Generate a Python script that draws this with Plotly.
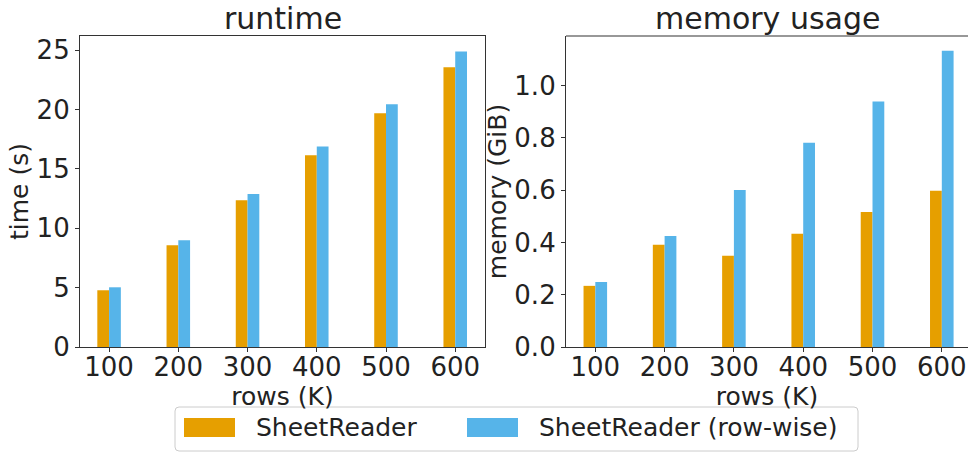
import plotly.graph_objects as go

rows = [100, 200, 300, 400, 500, 600]
tick_labels = ["100", "200", "300", "400", "500", "600"]
runtime_sr = [4.78, 8.58, 12.37, 16.16, 19.7, 23.57]
runtime_rw = [5.03, 9.0, 12.88, 16.9, 20.45, 24.9]
memory_sr = [0.234, 0.391, 0.349, 0.433, 0.517, 0.598]
memory_rw = [0.249, 0.425, 0.601, 0.782, 0.939, 1.134]
series_names = ["SheetReader", "SheetReader (row-wise)"]

ORANGE = "#E69F00"
BLUE = "#56B4E9"
FONT = "DejaVu Sans"
TXT = "#222222"
LINE = "#333333"

W, H = 968, 453
ML, MR, MT, MB = 80, 0, 36, 106
PW, PH = W - ML - MR, H - MT - MB


def px(x):
    return (x - ML) / PW


def py(y):
    return (H - MB - y) / PH


fig = go.Figure()
bw = 17
fig.add_trace(go.Bar(x=rows, y=runtime_sr, width=bw, offset=-bw, marker_color=ORANGE,
                     marker_line_width=0, name=series_names[0], xaxis="x", yaxis="y", showlegend=False))
fig.add_trace(go.Bar(x=rows, y=runtime_rw, width=bw, offset=0, marker_color=BLUE,
                     marker_line_width=0, name=series_names[1], xaxis="x", yaxis="y", showlegend=False))
fig.add_trace(go.Bar(x=rows, y=memory_sr, width=bw, offset=-bw, marker_color=ORANGE,
                     marker_line_width=0, name=series_names[0], xaxis="x2", yaxis="y2", showlegend=False))
fig.add_trace(go.Bar(x=rows, y=memory_rw, width=bw, offset=0, marker_color=BLUE,
                     marker_line_width=0, name=series_names[1], xaxis="x2", yaxis="y2", showlegend=False))

axis_common = dict(showgrid=False, zeroline=False, showline=True, linecolor=LINE, linewidth=1.2,
                   ticks="outside", ticklen=4, tickcolor=LINE, tickwidth=1.2,
                   tickfont=dict(family=FONT, size=26, color=TXT), automargin=False)
title_font = dict(family=FONT, size=25, color=TXT)

fig.update_layout(
    width=W, height=H,
    margin=dict(l=ML, r=MR, t=MT, b=MB),
    paper_bgcolor="white", plot_bgcolor="white",
    barmode="overlay",
    showlegend=False,
    font=dict(family=FONT, size=24, color=TXT),
    xaxis=dict(domain=[0, px(485)], range=[58, 643], tickvals=rows, ticktext=tick_labels,
               mirror=True, anchor="y", ticklabelstandoff=-7,
               title=dict(text="rows (K)", font=title_font, standoff=0),
               **axis_common),
    yaxis=dict(domain=[0, 1], range=[0, 26.2], tickvals=[0, 5, 10, 15, 20, 25], mirror=True, anchor="x",
               title=dict(text="time (s)", font=title_font, standoff=0),
               **axis_common),
    xaxis2=dict(domain=[px(566), 1], range=[57.7, 637.8], tickvals=rows, ticktext=tick_labels,
                mirror=False, anchor="y2", ticklabelstandoff=-7,
                title=dict(text="rows (K)", font=title_font, standoff=0),
                **axis_common),
    yaxis2=dict(domain=[0, 1], range=[0, 1.19], tickvals=[0, 0.2, 0.4, 0.6, 0.8, 1.0], tickformat=".1f",
                mirror=False, anchor="x2",
                title=dict(text="memory (GiB)", font=title_font, standoff=0),
                **axis_common),
)

annotations = [
    dict(text="runtime", x=px(282.5), y=1, xref="paper", yref="paper", xanchor="center", yanchor="bottom",
         yshift=-2, showarrow=False, font=dict(family=FONT, size=30, color=TXT)),
    dict(text="memory usage", x=px(767), y=1, xref="paper", yref="paper", xanchor="center", yanchor="bottom",
         yshift=-2, showarrow=False, font=dict(family=FONT, size=30, color=TXT)),
    dict(text=series_names[0], x=px(254), y=py(427), xref="paper", yref="paper", xanchor="left",
         yanchor="middle", showarrow=False, font=dict(family=FONT, size=25, color=TXT)),
    dict(text=series_names[1], x=px(537), y=py(427), xref="paper", yref="paper", xanchor="left",
         yanchor="middle", showarrow=False, font=dict(family=FONT, size=25, color=TXT)),
]

# legend frame (rounded)
x0, x1, y0, y1, r = 175, 858, 407, 451, 4
path = (f"M {px(x0 + r)},{py(y0)} L {px(x1 - r)},{py(y0)} Q {px(x1)},{py(y0)} {px(x1)},{py(y0 + r)} "
        f"L {px(x1)},{py(y1 - r)} Q {px(x1)},{py(y1)} {px(x1 - r)},{py(y1)} "
        f"L {px(x0 + r)},{py(y1)} Q {px(x0)},{py(y1)} {px(x0)},{py(y1 - r)} "
        f"L {px(x0)},{py(y0 + r)} Q {px(x0)},{py(y0)} {px(x0 + r)},{py(y0)} Z")
shapes = [
    dict(type="path", path=path, xref="paper", yref="paper", line=dict(color="#cccccc", width=1),
         fillcolor="rgba(255,255,255,0.8)", layer="above"),
    dict(type="rect", x0=px(184), x1=px(235), y0=py(418), y1=py(437), xref="paper", yref="paper",
         fillcolor=ORANGE, line=dict(width=0), layer="above"),
    dict(type="rect", x0=px(467), x1=px(518), y0=py(418), y1=py(437), xref="paper", yref="paper",
         fillcolor=BLUE, line=dict(width=0), layer="above"),
    # top frame line of the right panel (its right edge lies off-canvas)
    dict(type="line", x0=px(566), x1=1, y0=1, y1=1, xref="paper", yref="paper",
         line=dict(color=LINE, width=1.2), layer="above"),
]
fig.update_layout(annotations=annotations, shapes=shapes)

fig.write_html("out.html", config={"displayModeBar": False},
               post_script="document.body.style.margin='0';document.body.style.overflow='hidden';")
